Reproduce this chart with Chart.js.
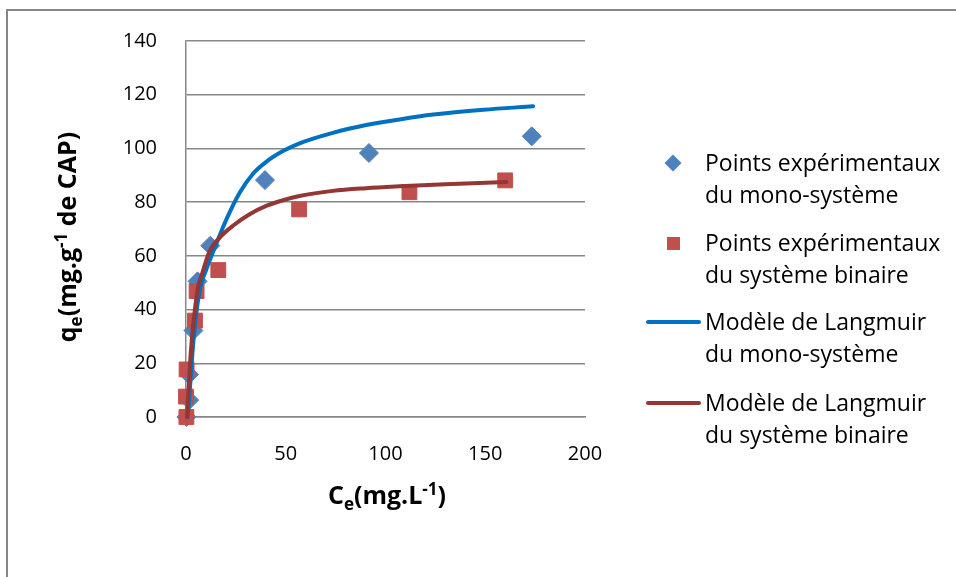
<!DOCTYPE html>
<html>
<head>
<meta charset="utf-8">
<script src="https://cdn.jsdelivr.net/npm/chart.js@4"></script>
<style>
  body { margin: 0; background: #fff; }
  #wrap { position: relative; width: 956px; height: 577px; overflow: hidden; font-family: "Open Sans", sans-serif; color: #000; }
  #c { position: absolute; left: 0; top: 0; }
  #frame { position: absolute; left: 6px; top: 9px; width: 1000px; height: 1000px; border-left: 2px solid #878787; border-top: 2px solid #878787; }
  #ytitle { position: absolute; left: 66px; top: 237px; transform: translate(-50%, -50%) rotate(-90deg); font-weight: bold; font-size: 25px; white-space: nowrap; }
  #xtitle { position: absolute; left: 387px; top: 494px; transform: translate(-50%, -50%); font-weight: bold; font-size: 25px; white-space: nowrap; }
  sub, sup { font-size: 68%; line-height: 0; }
  #legend { position: absolute; left: 0; top: 0; }
  .item { position: absolute; left: 705px; font-size: 23px; line-height: 32px; white-space: nowrap; }
  .mk { position: absolute; }
</style>
</head>
<body>
<div id="wrap">
  <canvas id="c" width="956" height="577"></canvas>
  <div id="frame"></div>
  <div id="ytitle">q<sub>e</sub>(mg.g<sup>-1</sup> de CAP)</div>
  <div id="xtitle">C<sub>e</sub>(mg.L<sup>-1</sup>)</div>
  <div id="legend"></div>
</div>
<script>
// experimental points, mono-system
var monoCe = [0.2, 1.6, 1.5, 3.7, 5.8, 12.2, 39.6, 91.7, 173.3];
var monoQe = [0, 6.3, 15.8, 32.2, 50.5, 63.8, 88.2, 98.3, 104.5];
// experimental points, binary system
var binCe = [0.2, 0, 0.3, 4.5, 5.3, 16.2, 56.7, 112, 160];
var binQe = [0, 7.6, 17.7, 35.9, 46.9, 54.7, 77.3, 83.7, 88.1];
// Langmuir curve, mono-system
var langMonoCe = [0.8, 2.0, 3.2, 4.7, 7.2, 10.2, 15.2, 20.2, 26.9, 33.5, 40.2, 48.6, 56.9, 73.6, 90.3, 107, 124, 149, 174];
var langMonoQe = [0, 11.1, 23.5, 35.9, 48.3, 55, 64.5, 73.5, 83.5, 90.5, 95, 99, 101.9, 105.8, 108.7, 110.8, 112.6, 114.4, 115.7];
// Langmuir curve, binary system
var langBinCe = [0.5, 1.35, 2.35, 3.85, 6.0, 7.7, 11.9, 16.9, 23.5, 31.9, 40.2, 48.6, 56.9, 73.6, 90.3, 107, 130, 160.6];
var langBinQe = [0, 11.1, 23.5, 35.9, 48.3, 52.5, 61.9, 66.8, 71.2, 75.5, 78.6, 80.7, 82.3, 84.2, 85.2, 85.9, 86.7, 87.5];

var xTicks = [0, 50, 100, 150, 200];
var yTicks = [0, 20, 40, 60, 80, 100, 120, 140];

var legendLines = [
  ['Points expérimentaux', 'du mono-système'],
  ['Points expérimentaux', 'du système binaire'],
  ['Modèle de Langmuir', 'du mono-système'],
  ['Modèle de Langmuir', 'du système binaire']
];

function pts(xs, ys) {
  var out = [];
  for (var i = 0; i < xs.length; i++) out.push({x: xs[i], y: ys[i]});
  return out;
}

var ctx = document.getElementById('c').getContext('2d');
var chart = new Chart(ctx, {
  type: 'scatter',
  data: {
    datasets: [{
      label: legendLines[0].join(' '),
      data: pts(monoCe, monoQe),
      pointStyle: 'rectRot',
      pointRadius: 9.5,
      backgroundColor: '#4F81BD',
      borderColor: '#4F81BD',
      borderWidth: 1,
      showLine: false,
      clip: false,
      order: 3
    }, {
      label: legendLines[1].join(' '),
      data: pts(binCe, binQe),
      pointStyle: 'rect',
      pointRadius: 10.5,
      backgroundColor: '#C0504D',
      borderColor: '#C0504D',
      borderWidth: 1,
      showLine: false,
      clip: false,
      order: 2
    }, {
      label: legendLines[2].join(' '),
      data: pts(langMonoCe, langMonoQe),
      showLine: true,
      pointRadius: 0,
      borderColor: '#0070C0',
      backgroundColor: '#0070C0',
      borderWidth: 4,
      borderCapStyle: 'round',
      cubicInterpolationMode: 'monotone',
      clip: false,
      order: 1
    }, {
      label: legendLines[3].join(' '),
      data: pts(langBinCe, langBinQe),
      showLine: true,
      pointRadius: 0,
      borderColor: '#943634',
      backgroundColor: '#943634',
      borderWidth: 4,
      borderCapStyle: 'round',
      cubicInterpolationMode: 'monotone',
      clip: false,
      order: 0
    }]
  },
  options: {
    responsive: false,
    animation: false,
    layout: { padding: { top: 39, right: 371, left: 0, bottom: 0 } },
    plugins: { legend: { display: false }, tooltip: { enabled: false } },
    scales: {
      x: {
        type: 'linear',
        min: 0, max: 200,
        afterBuildTicks: function (s) { s.ticks = xTicks.map(function (v) { return {value: v}; }); },
        afterFit: function (s) { s.height = 160; },
        grid: { display: false, drawTicks: false },
        border: { display: true, color: '#878787', width: 1.5 },
        ticks: { padding: 25, color: '#000', font: { family: 'Open Sans', size: 20 } }
      },
      y: {
        type: 'linear',
        min: 0, max: 140,
        afterBuildTicks: function (s) { s.ticks = yTicks.map(function (v) { return {value: v}; }); },
        afterFit: function (s) { s.width = 186; },
        grid: { color: '#878787', lineWidth: 1.5, drawTicks: false },
        border: { display: true, color: '#878787', width: 1.5 },
        ticks: { padding: 29, color: '#000', font: { family: 'Open Sans', size: 20 } }
      }
    }
  }
});

// legend built from the datasets
var legend = document.getElementById('legend');
var tops = [146, 226, 305, 386];
chart.data.datasets.forEach(function (ds, i) {
  var item = document.createElement('div');
  item.className = 'item';
  item.style.top = tops[i] + 'px';
  item.innerHTML = legendLines[i].join('<br>');
  legend.appendChild(item);
  var mk = document.createElement('div');
  mk.className = 'mk';
  var cy = tops[i] + 17;
  if (i === 0) {
    mk.style.cssText = 'left:667px;top:' + (cy - 6) + 'px;width:12px;height:12px;background:' + ds.backgroundColor + ';transform:rotate(45deg)';
  } else if (i === 1) {
    mk.style.cssText = 'left:667px;top:' + (cy - 6) + 'px;width:13px;height:13px;background:' + ds.backgroundColor;
  } else {
    mk.style.cssText = 'left:646px;top:' + (cy - 2) + 'px;width:55px;height:4px;border-radius:2px;background:' + ds.borderColor;
  }
  legend.appendChild(mk);
});
</script>
</body>
</html>
